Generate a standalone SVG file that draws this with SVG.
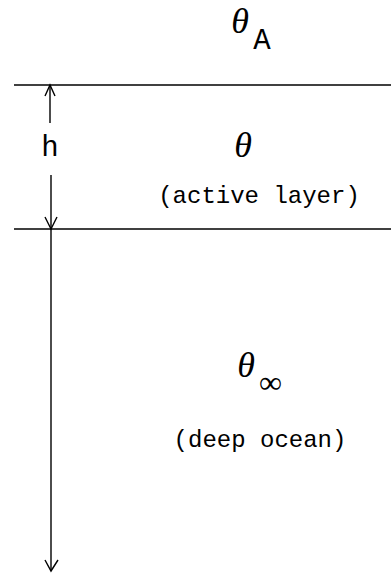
<svg xmlns="http://www.w3.org/2000/svg" width="391" height="575" viewBox="0 0 391 575">
<style>
.ln{stroke:#000;stroke-width:1.6;fill:none}
.ah{stroke:#000;stroke-width:1.4;fill:none}
.th{font-family:"Liberation Serif",serif;font-style:italic;font-size:36px;fill:#000}
.mono{font-family:"Liberation Mono",monospace;fill:#000}
</style>
<rect width="391" height="575" fill="#fff"/>
<g id="surface-line"><line class="ln" x1="14" y1="85" x2="391" y2="85"/></g>
<g id="thermocline-line"><line class="ln" x1="14" y1="229" x2="391" y2="229"/></g>
<g id="atmosphere">
<text class="th" x="240" y="33" text-anchor="middle">θ</text>
<text class="mono" x="262" y="49" font-size="29" text-anchor="middle">A</text>
</g>
<g id="active-layer">
<text class="th" x="243" y="157" text-anchor="middle">θ</text>
<text class="mono" x="259" y="203" font-size="24" text-anchor="middle">(active layer)</text>
</g>
<g id="deep-ocean">
<text class="th" x="246" y="377" text-anchor="middle">θ</text>
<text x="270.5" y="393" font-family="Liberation Serif,serif" font-size="32" text-anchor="middle">∞</text>
<text class="mono" x="260" y="447" font-size="24" text-anchor="middle">(deep ocean)</text>
</g>
<g id="connectors">
<line class="ah" x1="50" y1="85" x2="50" y2="123"/>
<polyline class="ah" points="45,96 50,85 55,96"/>
<text class="mono" x="50" y="156" font-size="29" text-anchor="middle">h</text>
<line class="ah" x1="51" y1="175" x2="51" y2="229"/>
<polyline class="ah" points="45,217 51,229 57,217"/>
<line class="ah" x1="51" y1="229" x2="51" y2="571"/>
<polyline class="ah" points="45,560 51,571 58,560"/>
</g>
</svg>
